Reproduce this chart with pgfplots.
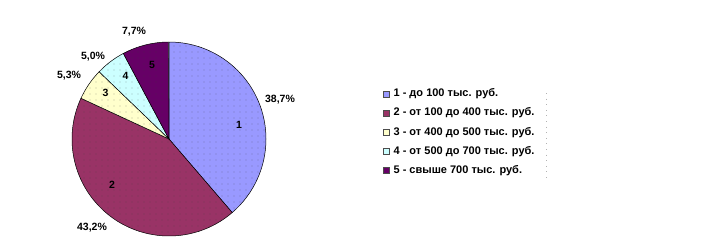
\documentclass[border=0pt]{standalone}
\usepackage{fontspec}
\setmainfont{Liberation Sans}
\usepackage{pgfplots}
\pgfplotsset{compat=1.18}
\usetikzlibrary{patterns.meta}
\definecolor{c1}{HTML}{9999FF}
\definecolor{c2}{HTML}{993366}
\definecolor{c3}{HTML}{FFFFCC}
\definecolor{c4}{HTML}{CCFFFF}
\definecolor{c5}{HTML}{660066}
\begin{document}
\begin{tikzpicture}[font=\bfseries\fontsize{10.5}{12}\selectfont]
\begin{axis}[
  scale only axis, width=722pt, height=250pt,
  xmin=0, xmax=722, ymin=0, ymax=250,
  hide axis, clip=false,
  legend cell align=left,
  legend style={at={(axis cs:383,161)}, anchor=north west, draw=none, fill=none,
    inner sep=0pt, row sep=10.2pt, font=\bfseries\fontsize{11}{12}\selectfont,
    nodes={inner sep=0pt, text height=7.5pt, text depth=1.5pt},
    /tikz/every odd column/.append style={column sep=4pt}},
  legend image code/.code={\draw[#1] (0pt,-3pt) rectangle (6pt,3pt);},
]
\path (axis cs:0,0) rectangle (axis cs:722,250);
% data: share (%), colour
\def\cx{169}\def\cy{111}\def\R{97pt}
\foreach \v/\c [remember=\e as \s (initially 90)] in {38.7/c1, 43.2/c2, 5.3/c3, 5.0/c4, 7.7/c5} {
  \pgfmathsetmacro{\e}{\s-3.6*\v}
  \edef\temp{\noexpand\fill[\c] (axis cs:\cx,\cy) -- ++(\s:\R) arc[start angle=\s, end angle=\e, radius=\R] -- cycle;
    \noexpand\fill[pattern={Dots[distance=6pt, radius=0.4pt]}, pattern color=black!75] (axis cs:\cx,\cy) -- ++(\s:\R) arc[start angle=\s, end angle=\e, radius=\R] -- cycle;
    \noexpand\draw[black, line width=0.5pt] (axis cs:\cx,\cy) -- ++(\s:\R) arc[start angle=\s, end angle=\e, radius=\R] -- cycle;}
  \temp
}
\addlegendimage{fill=c1, draw=black!70}\addlegendentry{1 - до 100 тыс. руб.}
\addlegendimage{fill=c2, draw=black!70}\addlegendentry{2 - от 100 до 400 тыс. руб.}
\addlegendimage{fill=c3, draw=black!70}\addlegendentry{3 - от 400 до 500 тыс. руб.}
\addlegendimage{fill=c4, draw=black!70}\addlegendentry{4 - от 500 до 700 тыс. руб.}
\addlegendimage{fill=c5, draw=black!70}\addlegendentry{5 - свыше 700 тыс. руб.}
% inside labels
\node at (axis cs:239,125) {1};
\node at (axis cs:112,65) {2};
\node at (axis cs:105.5,157.5) {3};
\node at (axis cs:125.5,174) {4};
\node at (axis cs:152,185) {5};
% outside labels
\node at (axis cs:280,150) {38,7\%};
\node at (axis cs:92,22) {43,2\%};
\node at (axis cs:69,174) {5,3\%};
\node at (axis cs:93,193) {5,0\%};
\node at (axis cs:134,218) {7,7\%};
\draw[black!30, line width=0.6pt, dash pattern=on 0.6pt off 5pt] (axis cs:546,157) -- (axis cs:546,69);
\end{axis}
\end{tikzpicture}
\end{document}
